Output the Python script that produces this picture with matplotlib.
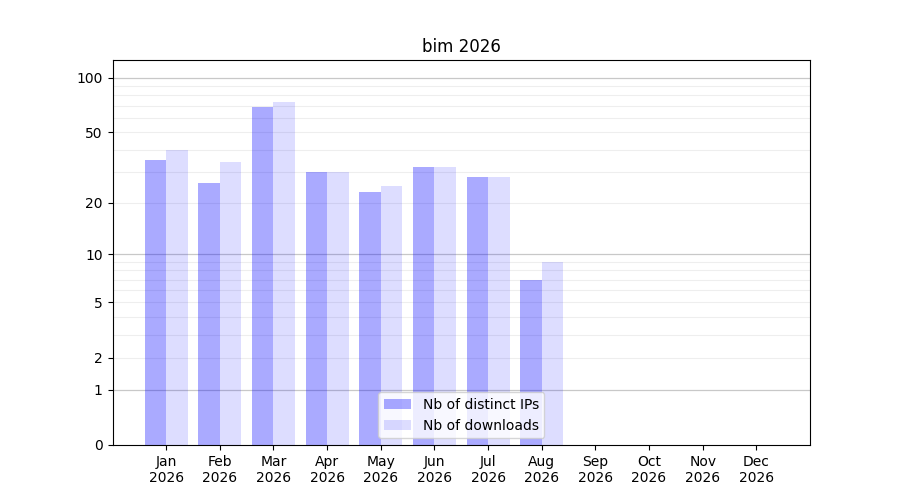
import numpy as np
import matplotlib
matplotlib.use("Agg")
import matplotlib.pyplot as plt
from matplotlib.ticker import FixedLocator, NullFormatter

# monthly stats for bim
months = ["Jan", "Feb", "Mar", "Apr", "May", "Jun",
          "Jul", "Aug", "Sep", "Oct", "Nov", "Dec"]
year = "2026"
distinct_ips = [35, 26, 69, 30, 23, 32, 28, 7]
downloads = [40, 34, 74, 30, 25, 32, 28, 9]


def fwd(x):
    x = np.asarray(x, dtype=float)
    return np.log10(1 + np.clip(x, -0.999999, None))


def inv(y):
    return 10 ** np.asarray(y, dtype=float) - 1


fig, ax = plt.subplots(figsize=(9, 5), dpi=100)

x_ips = np.arange(len(distinct_ips))
x_dl = np.arange(len(downloads))
ax.bar(x_ips, distinct_ips, width=-0.4, align="edge", color="blue",
       alpha=1 / 3, label="Nb of distinct IPs", zorder=2)
ax.bar(x_dl, downloads, width=0.4, align="edge", color="blue",
       alpha=0.133, label="Nb of downloads", zorder=2)

ax.set_yscale("function", functions=(fwd, inv))
ax.set_ylim(0, 125.5)
ax.set_xlim(-1, 12)

major = [0, 1, 2, 5, 10, 20, 50, 100]
ax.yaxis.set_major_locator(FixedLocator(major))
ax.set_yticklabels([str(v) for v in major])
minor = [3, 4, 6, 7, 8, 9, 30, 40, 60, 70, 80, 90]
ax.yaxis.set_minor_locator(FixedLocator(minor))
ax.yaxis.set_minor_formatter(NullFormatter())
ax.tick_params(axis="y", which="minor", length=0)

for v in [1, 10, 100]:
    ax.axhline(v, color="#c8c8c8", lw=0.9, zorder=1)
for v in [2, 3, 4, 5, 6, 7, 8, 9, 20, 30, 40, 50, 60, 70, 80, 90]:
    ax.axhline(v, color="#eeeeee", lw=0.8, zorder=1)

ax.set_xticks(range(len(months)))
ax.set_xticklabels([m + "\n" + year for m in months])

ax.set_title("bim 2026")
ax.legend(loc="lower center")

fig.savefig("out.png", dpi=100)
